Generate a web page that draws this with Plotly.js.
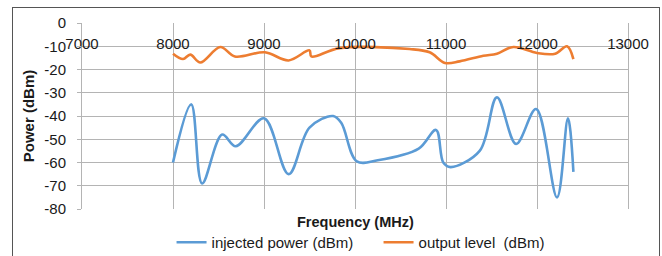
<!DOCTYPE html>
<html>
<head>
<meta charset="utf-8">
<script src="https://cdn.plot.ly/plotly-3.0.1.min.js"></script>
<style>
html,body{margin:0;padding:0;background:#fff;}
#wrap{position:relative;width:662px;height:256px;overflow:hidden;}
#chart{width:662px;height:256px;}
#frame{position:absolute;left:12px;top:7px;width:646px;height:260px;border:1px solid #555;pointer-events:none;}
</style>
</head>
<body>
<div id="wrap"><div id="chart"></div><div id="frame"></div></div>
<script>
// Injected power (dBm)
const injFreq = [8000, 8200, 8320, 8540, 8690, 9000, 9270, 9500, 9760, 9850, 10020, 10250, 10700, 10890, 10970, 11050, 11370, 11560, 11770, 11990, 12220, 12340, 12400];
const injPow  = [-60, -35, -69, -48, -53, -41, -65, -45, -40, -43, -59.5, -59, -54, -46, -60, -62, -55, -32, -52, -37, -75, -41, -64];
// Output level (dBm)
const outFreq = [8000, 8110, 8190, 8300, 8520, 8680, 9010, 9270, 9500, 9520, 9830, 10600, 10820, 10990, 11150, 11410, 11560, 11740, 12000, 12200, 12330, 12400];
const outPow  = [-13.2, -15.5, -13.6, -17, -10.3, -14.4, -12.6, -16.1, -11.8, -14.4, -10.8, -11.2, -12.6, -17.2, -16.5, -14.1, -13.2, -10.3, -12.9, -13.2, -10, -15.5];
const xTicks = [7000, 8000, 9000, 10000, 11000, 12000, 13000];
const yTicks = [0, -10, -20, -30, -40, -50, -60, -70, -80];
const names = ['injected power (dBm)', 'output level  (dBm)'];

const FONT = 'Liberation Sans, Arial, sans-serif';
const grid = '#b4b4b4';
const ink = '#1a1a1a';

const traces = [
  {x: injFreq, y: injPow, name: names[0], mode: 'lines', type: 'scatter',
   line: {color: '#5B9BD5', width: 2.6, shape: 'spline', smoothing: 1}},
  {x: outFreq, y: outPow, name: names[1], mode: 'lines', type: 'scatter',
   line: {color: '#ED7D31', width: 2.6, shape: 'spline', smoothing: 1}}
];

const layout = {
  width: 662, height: 256,
  margin: {l: 82, r: 34, t: 23, b: 47, autoexpand: false},
  paper_bgcolor: '#fff', plot_bgcolor: '#fff',
  font: {family: FONT, size: 15, color: ink},
  showlegend: true,
  legend: {orientation: 'h', x: 0.164, xanchor: 'left', y: -0.18, yanchor: 'middle',
           entrywidth: 162, entrywidthmode: 'pixels',
           font: {family: FONT, size: 15, color: ink}, itemwidth: 30, traceorder: 'normal'},
  xaxis: {range: [7000, 13000], tickvals: xTicks, ticktext: xTicks.map(String),
          anchor: 'free', position: 0.948, side: 'bottom',
          showgrid: true, gridcolor: grid, gridwidth: 1, zeroline: false, showline: false,
          ticks: '', tickfont: {family: FONT, size: 15, color: ink}},
  yaxis: {range: [-80, 0], tickvals: yTicks, ticktext: yTicks.map(String),
          showgrid: true, gridcolor: grid, gridwidth: 1, zeroline: false,
          showline: true, mirror: true, linecolor: grid, linewidth: 1,
          ticks: 'outside', ticklen: 4, tickcolor: grid, ticklabelstandoff: 8,
          tickfont: {family: FONT, size: 15, color: ink},
          title: {text: '<b>Power (dBm)</b>', standoff: 6, font: {family: FONT, size: 15, color: ink}}},
  annotations: [
    {text: '<b>Frequency (MHz)</b>', xref: 'paper', yref: 'paper', x: 0.5, y: -0.07,
     xanchor: 'center', yanchor: 'middle', showarrow: false,
     font: {family: FONT, size: 14.5, color: ink}}
  ]
};

Plotly.newPlot('chart', traces, layout, {displayModeBar: false, staticPlot: true});
</script>
</body>
</html>
